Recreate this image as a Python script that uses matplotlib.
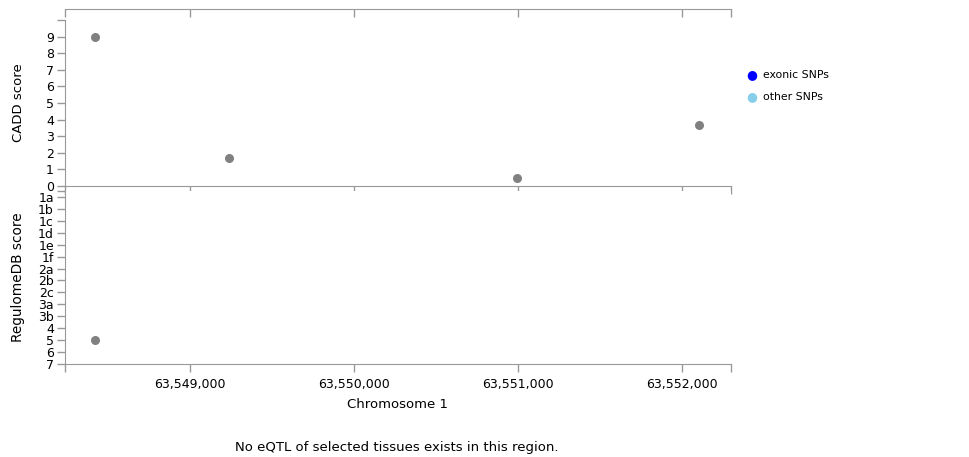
import matplotlib
matplotlib.use('Agg')
import matplotlib.pyplot as plt

# SNP positions on chromosome 1 and their scores
cadd_pos = [63548420, 63549240, 63550995, 63552105]
cadd_score = [9.0, 1.7, 0.5, 3.7]
reg_pos = [63548420]
reg_score = ['5']

reg_levels = ['1a', '1b', '1c', '1d', '1e', '1f', '2a', '2b', '2c',
              '3a', '3b', '4', '5', '6', '7']
x_ticks = [63549000, 63550000, 63551000, 63552000]
legend_names = ['exonic SNPs', 'other SNPs']
legend_colors = ['#0000ff', '#87ceeb']

W, H = 970, 457
x_min, x_max = 63548238, 63552299
axis_col = '#999999'
dot_col = '#808080'
fs = 9

plt.rcParams['font.family'] = 'DejaVu Sans'
fig = plt.figure(figsize=(W / 100, H / 100), dpi=100)


def px_axes(left, top, right, bottom):
    return fig.add_axes([left / W, 1 - bottom / H, (right - left) / W, (bottom - top) / H])


def style(ax):
    for s in ax.spines.values():
        s.set_color(axis_col)
    ax.tick_params(colors=axis_col, labelcolor='black', labelsize=fs, length=6, width=1, pad=2)
    ax.set_xlim(x_min, x_max)
    ax.set_xticks([x_min] + x_ticks + [x_max])


# CADD panel
ax1 = px_axes(65, 20, 731, 186)
style(ax1)
ax1.scatter(cadd_pos, cadd_score, s=30, color=dot_col, zorder=3, clip_on=False)
ax1.set_ylim(0, 10)
ax1.set_yticks(range(11))
ax1.set_yticklabels([str(i) for i in range(10)] + [''])
ax1.spines['right'].set_visible(False)
ax1.spines['top'].set_position(('outward', 11 * 0.72))
ax1.tick_params(axis='x', which='both', top=True, bottom=True, labelbottom=False, labeltop=False)
for t in ax1.xaxis.get_major_ticks():
    t.tick2line.set_marker(3)  # downward tick on the top line
ax1.set_ylabel('CADD score', fontsize=9.5)
ax1.yaxis.set_label_coords(-40 / 666, 0.5)

# RegulomeDB panel
ax2 = px_axes(65, 191, 731, 364)
style(ax2)
ax2.scatter(reg_pos, [reg_levels.index(v) for v in reg_score], s=30, color=dot_col,
            zorder=3, clip_on=False)
ax2.set_ylim(14, -0.5)
ax2.set_yticks([-0.5] + list(range(len(reg_levels))))
ax2.set_yticklabels([''] + reg_levels)
ax2.spines['right'].set_visible(False)
ax2.spines['top'].set_visible(False)
ax2.set_xticklabels([''] + [f'{v:,}' for v in x_ticks] + [''])
ax2.tick_params(axis='x', pad=4)
ax2.set_xlabel('Chromosome 1', fontsize=9.5, labelpad=5)
ax2.set_ylabel('RegulomeDB score', fontsize=9.8)
ax2.yaxis.set_label_coords(-40 / 666, 0.5)

# legend
for i, (name, col) in enumerate(zip(legend_names, legend_colors)):
    y = 75 + 22 * i
    fig.text(752 / W, 1 - y / H, '\u25cf', color=col, fontsize=9, ha='center', va='center')
    fig.text(763 / W, 1 - y / H, name, fontsize=7.8, ha='left', va='center')

fig.text(397 / W, 1 - 448 / H, 'No eQTL of selected tissues exists in this region.',
         fontsize=9.5, ha='center', va='center')

fig.savefig('out.png', dpi=100)
